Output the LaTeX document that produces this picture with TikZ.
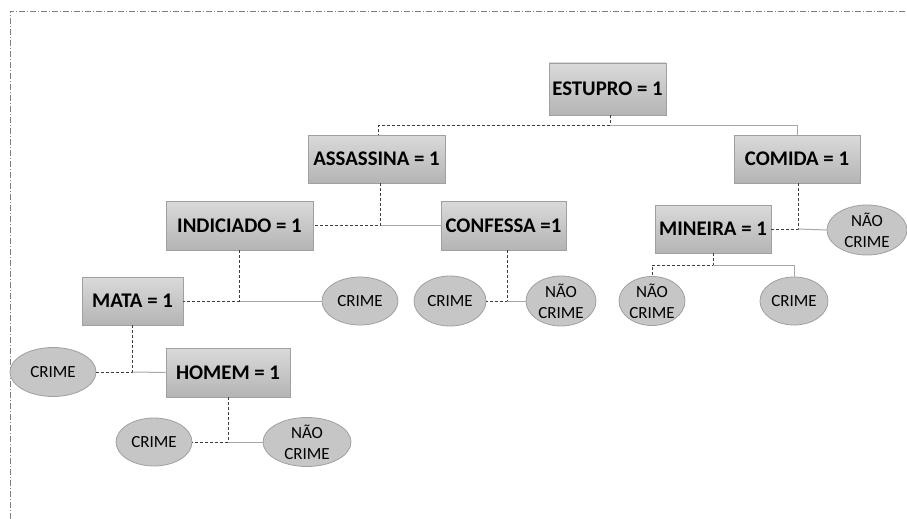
\documentclass[tikz,border=0pt]{standalone}
\usepackage{fontspec}
\setmainfont{Carlito}
\usetikzlibrary{shapes.geometric}
\definecolor{boxtop}{HTML}{DADADA}
\definecolor{boxbot}{HTML}{B4B4B4}
\definecolor{boxline}{HTML}{A0A0A0}
\definecolor{ellfill}{HTML}{C6C6C6}
\definecolor{dashcol}{HTML}{3C3C3C}
\definecolor{solidcol}{HTML}{A8A8A8}
\tikzset{
  rulebox/.style={rectangle, draw=boxline, line width=0.8pt, top color=boxtop, bottom color=boxbot,
    font=\fontsize{20.8}{23}\selectfont\bfseries, inner sep=0pt, align=center},
  leaf/.style={ellipse, draw=boxline, line width=0.8pt, fill=ellfill, inner sep=0pt,
    font=\fontsize{17}{21}\selectfont, align=center},
  dl/.style={draw=dashcol, line width=1pt, dash pattern=on 3pt off 2pt},
  sl/.style={draw=solidcol, line width=1pt},
  frame/.style={draw=gray, line width=0.8pt, dash pattern=on 6pt off 2pt on 1pt off 2pt}
}
\begin{document}
\begin{tikzpicture}[x=1pt,y=-1pt]
\useasboundingbox (0,0) rectangle (907,519);
\draw[frame] (10,519) -- (10,11) -- (907,11);

% boxes
\node[rulebox, minimum width=117pt, minimum height=52pt] (estupro) at (607.5,89) {ESTUPRO = 1};
\node[rulebox, minimum width=137pt, minimum height=48pt] (assassina) at (376.5,159) {ASSASSINA = 1};
\node[rulebox, minimum width=126pt, minimum height=48pt] (comida) at (797,159) {COMIDA = 1};
\node[rulebox, minimum width=147pt, minimum height=49pt] (indiciado) at (239.5,225.5) {INDICIADO = 1};
\node[rulebox, minimum width=125pt, minimum height=49pt] (confessa) at (503.5,225.5) {CONFESSA =1};
\node[rulebox, minimum width=116pt, minimum height=48pt] (mineira) at (713,229) {MINEIRA = 1};
\node[rulebox, minimum width=101pt, minimum height=48pt] (mata) at (132.5,301) {MATA = 1};
\node[rulebox, minimum width=124pt, minimum height=49pt] (homem) at (228,372.5) {HOMEM = 1};

% leaves
\node[leaf, minimum width=76pt, minimum height=48pt] (c1) at (360,301) {CRIME};
\node[leaf, minimum width=72pt, minimum height=50pt] (c2) at (450,301) {CRIME};
\node[leaf, minimum width=70pt, minimum height=50pt] (n1) at (561,301) {NÃO\\CRIME};
\node[leaf, minimum width=80pt, minimum height=50pt] (n2) at (867,230) {NÃO\\CRIME};
\node[leaf, minimum width=66pt, minimum height=48pt] (n3) at (652,301) {NÃO\\CRIME};
\node[leaf, minimum width=68pt, minimum height=48pt] (c3) at (794,301) {CRIME};
\node[leaf, minimum width=86pt, minimum height=49pt] (c4) at (53,372) {CRIME};
\node[leaf, minimum width=76pt, minimum height=48pt] (c5) at (154,442) {CRIME};
\node[leaf, minimum width=88pt, minimum height=48pt] (n4) at (307,442) {NÃO\\CRIME};

% connectors
\coordinate (e0) at ([xshift=2.5pt]estupro.south);
\coordinate (j1) at ([yshift=-10pt]e0);
\draw[dl] (e0) -- (j1) -| ([xshift=2pt]assassina.north);
\draw[sl] (j1) -| (comida.north);

\coordinate (a0) at ([xshift=4pt]assassina.south);
\coordinate (j2) at (a0 |- indiciado.east);
\draw[dl] (a0) -- (j2) -- (indiciado.east);
\draw[sl] (j2) -- (confessa.west);

\coordinate (i0) at (indiciado.south);
\coordinate (j3) at (i0 |- mata.east);
\draw[dl] (i0) -- (j3) -- (mata.east);
\draw[sl] (j3) -- (c1.west);

\coordinate (m0) at (mata.south);
\coordinate (j4) at (m0 |- c4.east);
\draw[dl] (m0) -- (j4) -- (c4.east);
\draw[sl] (j4) -- (homem.west);

\coordinate (h0) at (homem.south);
\coordinate (j5) at (h0 |- c5.east);
\draw[dl] (h0) -- (j5) -- (c5.east);
\draw[sl] (j5) -- (n4.west);

\coordinate (f0) at ([xshift=3.5pt]confessa.south);
\coordinate (j6) at (f0 |- c2.east);
\draw[dl] (f0) -- (j6) -- (c2.east);
\draw[sl] (j6) -- (n1.west);

\coordinate (k0) at ([xshift=1pt]comida.south);
\coordinate (j7) at (k0 |- mineira.east);
\draw[dl] (k0) -- (j7) -- (mineira.east);
\draw[sl] (j7) -- (n2.west);

\coordinate (r0) at (mineira.south);
\coordinate (j8) at ([yshift=-12pt]r0);
\draw[dl] (r0) -- (j8) -| (n3.north);
\draw[sl] (j8) -| (c3.north);
\end{tikzpicture}
\end{document}
